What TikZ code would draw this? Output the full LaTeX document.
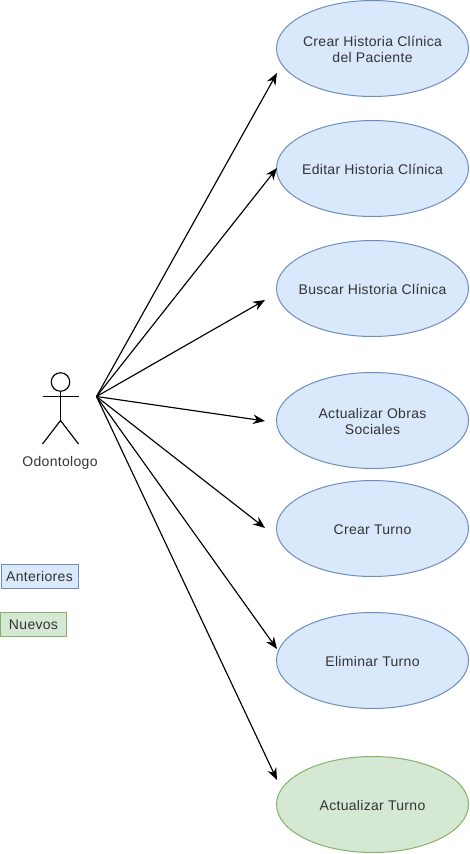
\documentclass[tikz,border=0pt]{standalone}
\usepackage{fontspec}
\setmainfont[LetterSpace=2.2]{Liberation Sans}
\usetikzlibrary{shapes.geometric,arrows.meta}
\definecolor{bluefill}{HTML}{DAE8FC}
\definecolor{blueline}{HTML}{6C8EBF}
\definecolor{greenfill}{HTML}{D5E8D4}
\definecolor{greenline}{HTML}{82B366}
\definecolor{txt}{HTML}{333333}
\newcommand{\lowtext}[1]{\raisebox{-1pt}[\height][\depth]{#1}}
\tikzset{
  x=1pt,y=-1pt,
  uc/.style={ellipse,draw=blueline,fill=bluefill,line width=1pt,minimum width=192pt,minimum height=96pt,inner xsep=-30pt,inner ysep=0pt,align=center,text=txt,font=\fontsize{14}{16}\selectfont},
  ucnew/.style={uc,draw=greenline,fill=greenfill},
  legendbox/.style={draw=blueline,fill=bluefill,line width=1pt,minimum height=24pt,inner sep=0pt,text=txt,font=\fontsize{14}{16}\selectfont},
  link/.style={-{Stealth[length=12pt,width=9.5pt]},line width=1.15pt,black},
  stick/.style={line width=1.15pt,black}
}
\begin{document}
\begin{tikzpicture}
\useasboundingbox (0,0) rectangle (470,854);
\node[uc] (a) at (372.5,48.5) {\lowtext{Crear Historia Clínica}\\\lowtext{del Paciente}};
\node[uc] (b) at (372.5,168.5) {\lowtext{Editar Historia Clínica}};
\node[uc] (c) at (372.5,288.5) {\lowtext{Buscar Historia Clínica}};
\node[uc] (d) at (372.5,420.5) {\lowtext{Actualizar Obras}\\\lowtext{Sociales}};
\node[uc] (e) at (372.5,528.5) {\lowtext{Crear Turno}};
\node[uc] (f) at (372.5,660.5) {\lowtext{Eliminar Turno}};
\node[ucnew] (g) at (372.5,804.5) {\lowtext{Actualizar Turno}};
\node[legendbox,minimum width=77pt] (ant) at (39.5,576.5) {Anteriores};
\node[legendbox,draw=greenline,fill=greenfill,minimum width=66pt] (nue) at (33.5,624.5) {Nuevos};
% actor
\node[circle,draw=black,line width=1.15pt,minimum size=18.5pt,inner sep=0pt] (head) at (60.5,382) {};
\coordinate (hip) at (60.5,420.5);
\coordinate (armL) at (42.5,396.5);
\coordinate (armR) at (78.5,396.5);
\coordinate (footL) at (42.5,444);
\coordinate (footR) at (78.5,444);
\draw[stick] (head.south) -- (hip);
\draw[stick] (armL) -- (armR);
\draw[stick] (footL) -- (hip) -- (footR);
\node[text=txt,font=\fontsize{14}{16}\selectfont] (lab) at (60,462.5) {Odontologo};
\coordinate (src) at (96.5,396.5);
\coordinate (ta) at (277,73);
\coordinate (tb) at (277,168);
\coordinate (tc) at (265,300);
\coordinate (td) at (265,421);
\coordinate (te) at (265,528);
\coordinate (tf) at (277,649);
\coordinate (tg) at (277,780);
\foreach \t in {ta,tb,tc,td,te,tf,tg} \draw[link] (src) -- (\t);
\end{tikzpicture}
\end{document}
